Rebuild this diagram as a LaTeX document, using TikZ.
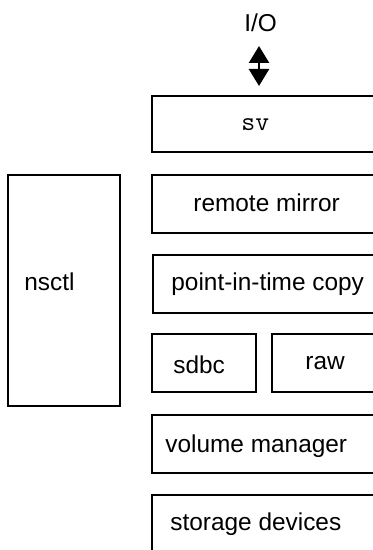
\documentclass[tikz,border=0pt]{standalone}
\usepackage{fontspec}
\setmainfont{Liberation Sans}
\usetikzlibrary{arrows.meta}
\begin{document}
\begin{tikzpicture}[x=0.5pt,y=-0.5pt,
  box/.style={draw=black,line width=1pt,fill=white,inner sep=0pt,outer sep=0pt,anchor=north west},
  lbl/.style={anchor=base west,inner sep=0pt,font=\fontsize{12.2}{14}\selectfont},
  mlbl/.style={anchor=base west,inner sep=0pt,font=\fontsize{13.5}{14}\selectfont\ttfamily}]
\useasboundingbox (0,0) rectangle (373,550);
\clip (0,0) rectangle (373,550);
% boxes (sizes in pt = px/2)
\node[box,minimum width=124pt,minimum height=28pt] (svb) at (152,96) {};
\node[box,minimum width=124pt,minimum height=29pt] (rmb) at (152,175) {};
\node[box,minimum width=56pt,minimum height=115.5pt] (nsb) at (8,175) {};
\node[box,minimum width=124pt,minimum height=29pt] (pitb) at (153,255) {};
\node[box,minimum width=52pt,minimum height=29pt] (sdb) at (152,334) {};
\node[box,minimum width=64pt,minimum height=29pt] (rawb) at (272,334) {};
\node[box,minimum width=124pt,minimum height=29pt] (vmb) at (152,415) {};
\node[box,minimum width=124pt,minimum height=35pt] (stb) at (152,495) {};
% labels
\node[lbl] (io) at (244,32) {I/O};
\node[mlbl] (svl) at (241,131) {sv};
\node[lbl] (rm) at (193,212) {remote mirror};
\node[lbl] (ns) at (24,291) {nsctl};
\node[lbl] (pit) at (171,291) {point-in-time copy};
\node[lbl] (sd) at (173,373) {sdbc};
\node[lbl] (raw) at (305,369) {raw};
\node[lbl] (vm) at (165,452) {volume manager};
\node[lbl] (st) at (170,530) {storage devices};
% arrow
\coordinate (a1) at (259,46);
\coordinate (a2) at (259,86);
\draw[line width=1.2pt,{Triangle[length=8.5pt,width=10pt]}-{Triangle[length=8.5pt,width=10pt]}] (a1) -- (a2);
\end{tikzpicture}
\end{document}
